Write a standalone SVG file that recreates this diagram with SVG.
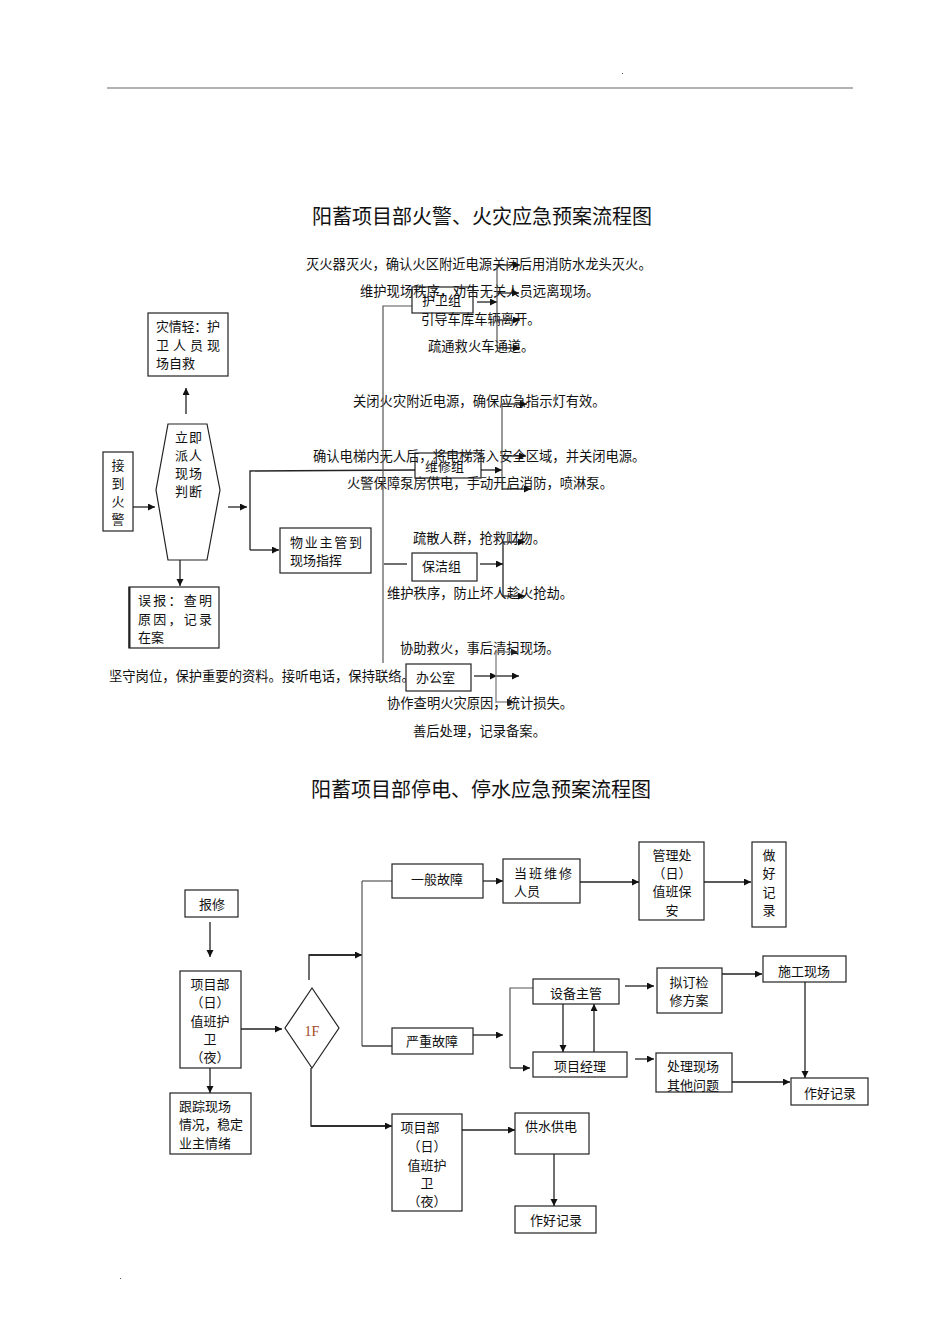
<svg xmlns="http://www.w3.org/2000/svg" width="945" height="1337" viewBox="0 0 945 1337">
<defs>
<marker id="ah" markerUnits="userSpaceOnUse" markerWidth="8" markerHeight="8" refX="7" refY="3.5" orient="auto">
<path d="M0,0 L7,3.5 L0,7 z" fill="#111"/>
</marker>
<marker id="ahg" markerUnits="userSpaceOnUse" markerWidth="8" markerHeight="8" refX="7" refY="3.5" orient="auto">
<path d="M0,0 L7,3.5 L0,7 z" fill="#222"/>
</marker>
</defs>
<style>
text{font-family:"Noto Sans CJK SC","Liberation Sans",sans-serif;fill:#111;}
.t{font-size:13px;}
.ft{font-size:13.3px;}
.title{font-size:20px;text-anchor:middle;}
.c{text-anchor:middle;}
.box{fill:#fff;stroke:#222;stroke-width:1.2;}
.obox{fill:none;stroke:#222;stroke-width:1.2;}
.ln{fill:none;stroke:#222;stroke-width:1.3;}
.lg{fill:none;stroke:#555;stroke-width:1.2;}
.lgl{fill:none;stroke:#888;stroke-width:1.4;}
.ar{fill:none;stroke:#222;stroke-width:1.3;marker-end:url(#ah);}
.arg{fill:none;stroke:#888;stroke-width:1.4;marker-end:url(#ahg);}
</style>
<rect width="945" height="1337" fill="#fff"/>
<line x1="107" y1="88" x2="853" y2="88" stroke="#666" stroke-width="1.2"/>
<rect x="622" y="73" width="1" height="1" fill="#555"/>
<rect x="120" y="1278" width="1" height="1" fill="#555"/>

<text class="title" x="482" y="224">阳蓄项目部火警、火灾应急预案流程图</text>
<text class="title" x="481" y="797">阳蓄项目部停电、停水应急预案流程图</text>

<!-- fire chart free texts -->
<g id="fire-texts">
<text class="ft" x="306" y="269">灭火器灭火，确认火区附近电源关闭后用消防水龙头灭火。</text>
<text class="ft" x="360" y="296">维护现场秩序，劝告无关人员远离现场。</text>
<text class="ft" x="421" y="324">引导车库车辆离开。</text>
<text class="ft" x="428" y="351">疏通救火车通道。</text>
<text class="ft" x="353" y="406">关闭火灾附近电源，确保应急指示灯有效。</text>
<text class="ft" x="313" y="461">确认电梯内无人后，将电梯落入安全区域，并关闭电源。</text>
<text class="ft" x="347" y="488">火警保障泵房供电，手动开启消防，喷淋泵。</text>
<text class="ft" x="413" y="543">疏散人群，抢救财物。</text>
<text class="ft" x="387" y="598">维护秩序，防止坏人趁火抢劫。</text>
<text class="ft" x="400" y="653">协助救火，事后清扫现场。</text>
<text class="ft" x="109" y="681">坚守岗位，保护重要的资料。接听电话，保持联络。</text>
<text class="ft" x="387" y="708">协作查明火灾原因，统计损失。</text>
<text class="ft" x="413" y="736">善后处理，记录备案。</text>
</g>

<!-- fire chart connectors -->
<g id="fire-connectors">
<line class="ar" x1="133" y1="507" x2="155" y2="507"/>
<line class="ar" x1="186" y1="414" x2="186" y2="388"/>
<line class="ar" x1="228" y1="507" x2="247" y2="507"/>
<polyline class="ln" points="415,470 250,471 250,550"/>
<line class="ar" x1="250" y1="550" x2="279" y2="550"/>
<line class="ar" x1="180" y1="560" x2="180" y2="586"/>
<polyline class="lg" points="412,306 383,306 383,663"/>
<line class="ln" x1="384" y1="564" x2="407" y2="564"/>
<!-- 护卫组 branches -->
<line class="ar" x1="477" y1="302" x2="497" y2="302"/>
<line class="lg" x1="497" y1="265" x2="497" y2="348"/>
<line class="ar" x1="497" y1="265" x2="520" y2="265"/>
<line class="ar" x1="497" y1="293" x2="519" y2="293"/>
<line class="ar" x1="497" y1="320" x2="520" y2="320"/>
<line class="ar" x1="497" y1="348" x2="520" y2="348"/>
<!-- 维修组 branches -->
<line class="ar" x1="481" y1="470" x2="502" y2="470"/>
<line class="lg" x1="502" y1="404" x2="502" y2="490"/>
<line class="ar" x1="502" y1="404" x2="527" y2="404"/>
<line class="ar" x1="502" y1="456" x2="526" y2="456"/>
<line class="ar" x1="502" y1="489" x2="531" y2="489"/>
<!-- 保洁组 branches -->
<line class="ar" x1="480" y1="564" x2="503" y2="564"/>
<line class="ln" x1="503" y1="542" x2="503" y2="597"/>
<line class="ar" x1="503" y1="542" x2="525" y2="542"/>
<line class="ar" x1="503" y1="596" x2="525" y2="596"/>
<!-- 办公室 branches -->
<line class="ar" x1="474" y1="676" x2="497" y2="676"/>
<line class="ar" x1="497" y1="676" x2="519" y2="676"/>
<line class="lgl" x1="496" y1="652" x2="496" y2="703"/>
<line class="arg" x1="496" y1="652" x2="518" y2="652"/>
<line class="arg" x1="496" y1="702" x2="514" y2="702"/>
</g>

<!-- fire chart nodes -->
<g id="n-jiedao">
<rect class="box" x="103" y="452" width="30" height="79"/>
<text class="t c" x="118" y="470">接</text>
<text class="t c" x="118" y="488">到</text>
<text class="t c" x="118" y="506">火</text>
<text class="t c" x="118" y="524">警</text>
</g>
<g id="n-judge">
<polygon class="box" points="168,424 207,424 220,490 207,560 168,560 156,490"/>
<text class="t" x="175" y="442" textLength="27" lengthAdjust="spacing">立即</text>
<text class="t" x="175" y="460" textLength="27" lengthAdjust="spacing">派人</text>
<text class="t" x="175" y="478" textLength="27" lengthAdjust="spacing">现场</text>
<text class="t" x="175" y="496" textLength="27" lengthAdjust="spacing">判断</text>
</g>
<g id="n-light">
<rect class="box" x="148" y="313" width="80" height="63"/>
<text class="t" x="156" y="331" textLength="64" lengthAdjust="spacing">灾情轻：护</text>
<text class="t" x="156" y="350" textLength="64" lengthAdjust="spacing">卫人员现</text>
<text class="t" x="156" y="368">场自救</text>
</g>
<g id="n-false">
<rect class="box" x="129" y="587" width="90" height="61"/>
<line x1="129.5" y1="587" x2="129.5" y2="648" stroke="#222" stroke-width="2"/>
<text class="t" x="138" y="605" textLength="74" lengthAdjust="spacing">误报：查明</text>
<text class="t" x="138" y="624" textLength="74" lengthAdjust="spacing">原因，记录</text>
<text class="t" x="138" y="642">在案</text>
</g>
<g id="n-wuye">
<rect class="box" x="280" y="528" width="91" height="45"/>
<text class="t" x="290" y="547" textLength="72" lengthAdjust="spacing">物业主管到</text>
<text class="t" x="290" y="565">现场指挥</text>
</g>
<g id="n-huwei">
<rect class="obox" x="412" y="287" width="61" height="26"/>
<text class="t" x="422" y="305">护卫组</text>
</g>
<g id="n-weixiu">
<rect class="obox" x="415" y="453" width="66" height="25"/>
<text class="t" x="425" y="471">维修组</text>
</g>
<g id="n-baojie">
<rect class="box" x="412" y="553" width="65" height="28"/>
<text class="t" x="422" y="571">保洁组</text>
</g>
<g id="n-office">
<rect class="box" x="406" y="664" width="65" height="27"/>
<text class="t" x="416" y="682">办公室</text>
</g>

<!-- power/water chart connectors -->
<g id="pw-connectors">
<line class="ar" x1="210" y1="922" x2="210" y2="957"/>
<line class="ar" x1="241" y1="1029" x2="282" y2="1029"/>
<polyline class="ln" points="309,980 309,955 361,955"/>
<line class="ar" x1="309" y1="955" x2="362" y2="955"/>
<line class="lg" x1="362" y1="881" x2="362" y2="1046"/>
<line class="lg" x1="362" y1="881" x2="392" y2="881"/>
<line class="ln" x1="362" y1="1046" x2="392" y2="1046"/>
<line class="ar" x1="483" y1="881" x2="503" y2="881"/>
<line class="ar" x1="473" y1="1035" x2="503" y2="1035"/>
<line class="ar" x1="580" y1="882" x2="639" y2="882"/>
<line class="ar" x1="704" y1="882" x2="751" y2="882"/>
<polyline class="lg" points="533,988 510,988 510,1068"/>
<line class="ar" x1="510" y1="1068" x2="530" y2="1068"/>
<line class="ar" x1="563" y1="1004" x2="563" y2="1052"/>
<line class="ar" x1="594" y1="1052" x2="594" y2="1004"/>
<line class="ar" x1="625" y1="986" x2="654" y2="986"/>
<line class="ar" x1="722" y1="974" x2="762" y2="974"/>
<line class="ar" x1="805" y1="982" x2="805" y2="1078"/>
<line class="ar" x1="635" y1="1059" x2="654" y2="1059"/>
<line class="ar" x1="732" y1="1082" x2="790" y2="1082"/>
<line class="ar" x1="210" y1="1068" x2="210" y2="1093"/>
<polyline class="ln" points="311,1068 311,1126 385,1126"/>
<line class="ar" x1="311" y1="1126" x2="392" y2="1126"/>
<line class="ar" x1="462" y1="1130" x2="515" y2="1130"/>
<line class="ar" x1="554" y1="1154" x2="554" y2="1206"/>
</g>

<!-- power/water chart nodes -->
<g id="p-baoxiu">
<rect class="box" x="185" y="890" width="53" height="27"/>
<text class="t c" x="212" y="909">报修</text>
</g>
<g id="p-xiangmu1">
<rect class="box" x="180" y="971" width="61" height="97"/>
<text class="t c" x="210" y="989">项目部</text>
<text class="t c" x="210" y="1007">（日）</text>
<text class="t c" x="210" y="1026">值班护</text>
<text class="t c" x="210" y="1044">卫</text>
<text class="t c" x="210" y="1062">（夜）</text>
</g>
<g id="p-if">
<polygon class="box" points="312,988 339,1028 312,1068 285,1028"/>
<text x="312" y="1036" text-anchor="middle" style="font-family:'Liberation Serif',serif;font-size:14px;fill:#a0461e;">1F</text>
</g>
<g id="p-genzong">
<rect class="box" x="170" y="1093" width="81" height="61"/>
<text class="t" x="179" y="1111">跟踪现场</text>
<text class="t" x="179" y="1129" textLength="64" lengthAdjust="spacing">情况，稳定</text>
<text class="t" x="179" y="1148">业主情绪</text>
</g>
<g id="p-yiban">
<rect class="box" x="392" y="864" width="91" height="34"/>
<text class="t c" x="437" y="884">一般故障</text>
</g>
<g id="p-yanzhong">
<rect class="box" x="392" y="1028" width="81" height="26"/>
<text class="t c" x="432" y="1046">严重故障</text>
</g>
<g id="p-dangban">
<rect class="box" x="503" y="859" width="77" height="44"/>
<text class="t" x="514" y="878" textLength="58" lengthAdjust="spacing">当班维修</text>
<text class="t" x="514" y="896">人员</text>
</g>
<g id="p-guanli">
<rect class="box" x="639" y="842" width="65" height="78"/>
<text class="t c" x="672" y="860">管理处</text>
<text class="t c" x="672" y="878">（日）</text>
<text class="t c" x="672" y="896">值班保</text>
<text class="t c" x="672" y="915">安</text>
</g>
<g id="p-zuohao1">
<rect class="box" x="752" y="842" width="34" height="85"/>
<text class="t c" x="769" y="860">做</text>
<text class="t c" x="769" y="878">好</text>
<text class="t c" x="769" y="897">记</text>
<text class="t c" x="769" y="915">录</text>
</g>
<g id="p-shebei">
<rect class="box" x="533" y="979" width="86" height="25"/>
<text class="t c" x="576" y="998">设备主管</text>
</g>
<g id="p-niding">
<rect class="box" x="657" y="968" width="65" height="45"/>
<text class="t c" x="689" y="987">拟订检</text>
<text class="t c" x="689" y="1005">修方案</text>
</g>
<g id="p-shigong">
<rect class="box" x="763" y="956" width="83" height="26"/>
<text class="t c" x="804" y="976">施工现场</text>
</g>
<g id="p-jingli">
<rect class="box" x="533" y="1052" width="94" height="25"/>
<text class="t c" x="580" y="1071">项目经理</text>
</g>
<g id="p-chuli">
<rect class="box" x="656" y="1053" width="76" height="39"/>
<text class="t c" x="693" y="1071">处理现场</text>
<text class="t c" x="693" y="1090">其他问题</text>
</g>
<g id="p-zuohao2">
<rect class="box" x="791" y="1078" width="77" height="27"/>
<text class="t c" x="830" y="1098">作好记录</text>
</g>
<g id="p-xiangmu2">
<rect class="box" x="392" y="1114" width="70" height="97"/>
<text class="t c" x="420" y="1132">项目部</text>
<text class="t c" x="427" y="1151">（日）</text>
<text class="t c" x="427" y="1170">值班护</text>
<text class="t c" x="427" y="1188">卫</text>
<text class="t c" x="427" y="1206">（夜）</text>
</g>
<g id="p-gongshui">
<rect class="box" x="515" y="1113" width="74" height="41"/>
<text class="t" x="525" y="1131">供水供电</text>
</g>
<g id="p-zuohao3">
<rect class="box" x="515" y="1206" width="81" height="27"/>
<text class="t c" x="556" y="1225">作好记录</text>
</g>
</svg>
